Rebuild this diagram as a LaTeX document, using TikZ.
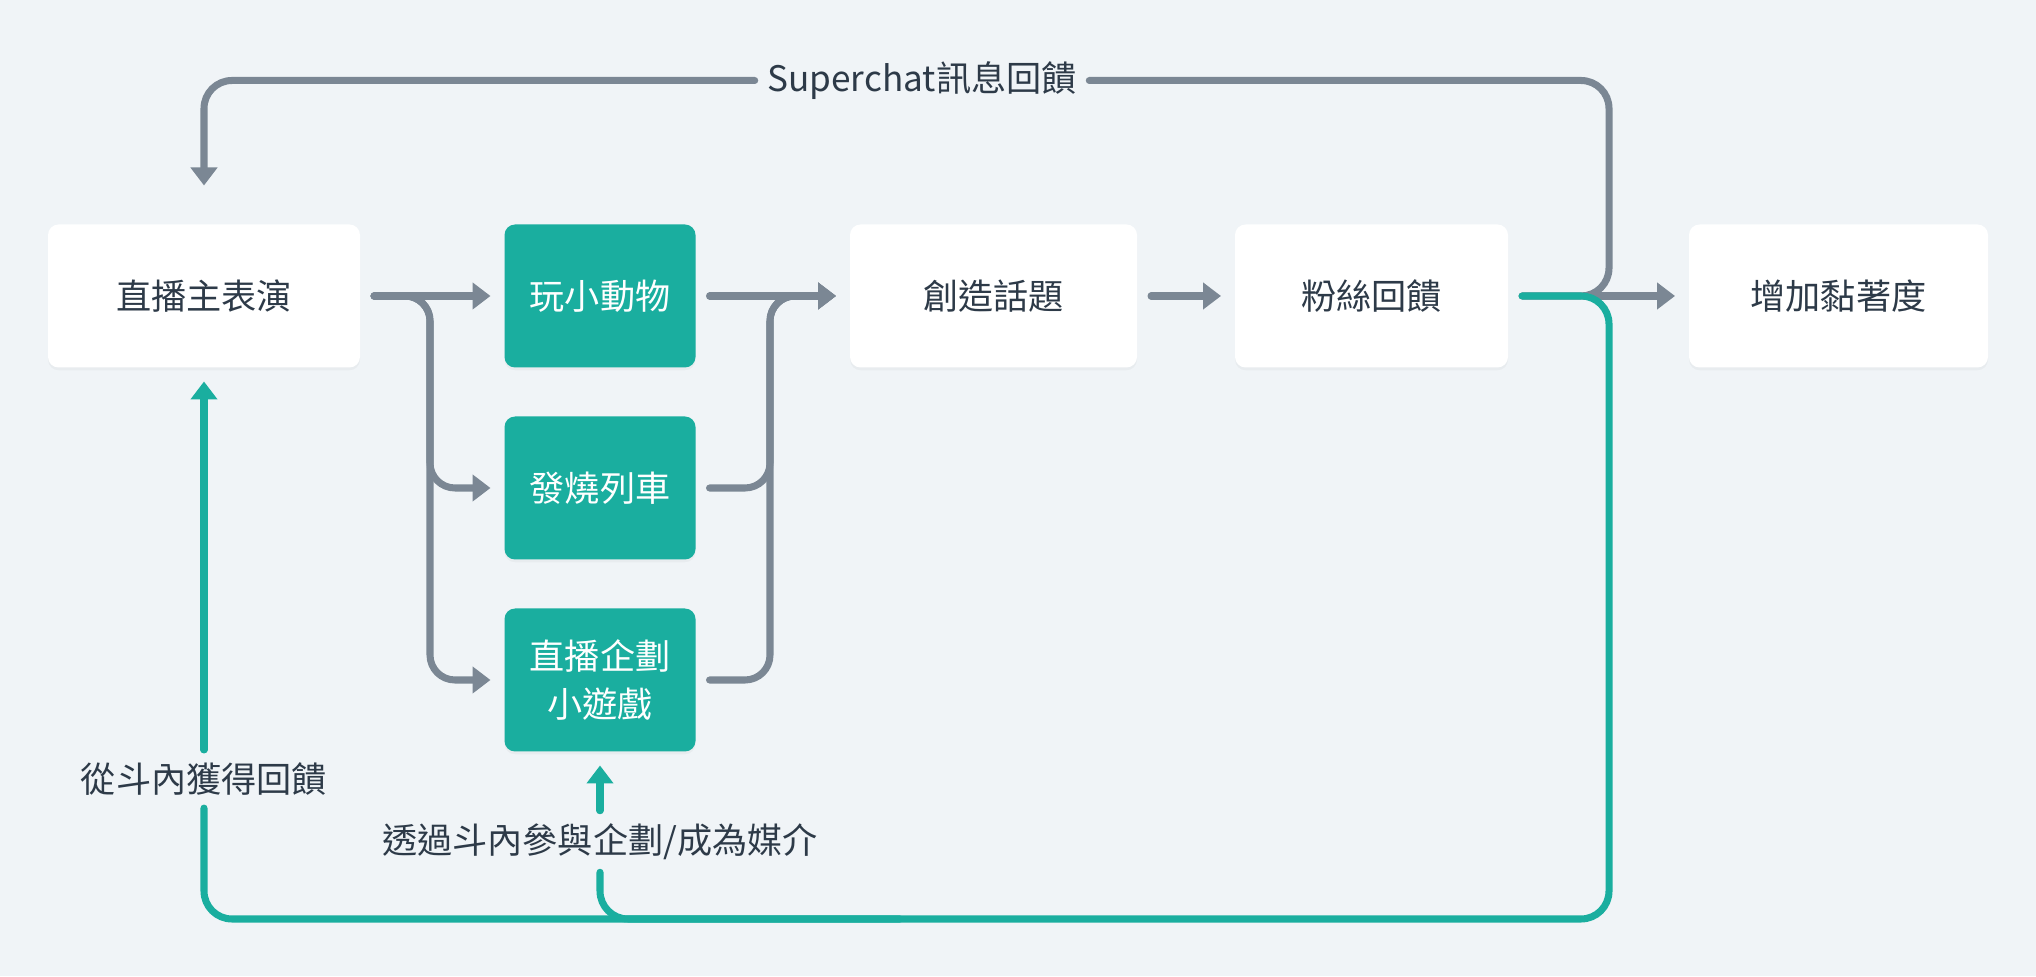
\documentclass[tikz,border=0pt]{standalone}
\usepackage{fontspec}
\setmainfont{Noto Sans CJK TC}
\usetikzlibrary{arrows.meta,shadows}
\definecolor{bgc}{HTML}{F0F4F7}
\definecolor{wire}{HTML}{7B8794}
\definecolor{mint}{HTML}{1AAE9F}
\definecolor{ink}{HTML}{2D3A48}

\begin{document}
\begin{tikzpicture}[>={Triangle[length=0.18cm,width=0.26cm]},
 font=\fontsize{10}{13.6}\selectfont,
 wbox/.style={fill=white,text=ink,rounded corners=3pt,minimum height=1.43cm,outer sep=0.14cm,
   drop shadow={shadow xshift=0pt,shadow yshift=-0.8pt,opacity=0.03,fill=black}},
 tbox/.style={wbox,fill=mint,text=white,minimum width=1.91cm,align=center},
 gw/.style={wire,line width=2pt,line cap=round},
 tw/.style={mint,line width=2pt,line cap=round},
 lab/.style={text=ink,inner sep=0.12cm}]
\useasboundingbox[fill=bgc] (0,0) rectangle (20.36,9.76);
% main row
\node[wbox,minimum width=3.12cm] (live) at (2.04,6.80) {直播主表演};
\node[tbox] (anim) at (6.00,6.80) {玩小動物};
\node[tbox] (fever) at (6.00,4.88) {發燒列車};
\node[tbox] (game) at (6.00,2.96) {直播企劃\\小遊戲};
\node[wbox,minimum width=2.87cm] (ideas) at (9.935,6.80) {創造話題};
\node[wbox,minimum width=2.73cm] (fans) at (13.715,6.80) {粉絲回饋};
\node[wbox,minimum width=2.99cm] (stick) at (18.385,6.80) {增加黏著度};
% loop labels
\node[lab] (sc) at (9.22,8.955) {Superchat訊息回饋};
\node[lab] (fb) at (2.04,1.97) {從斗內獲得回饋};
\node[lab] (via) at (6.00,1.345) {透過斗內參與企劃/成為媒介};
\coordinate (split) at (4.30,6.80);
\coordinate (merge) at (7.70,6.80);
\coordinate (jn) at (16.09,6.80);
\coordinate (ne) at (16.09,8.955);
\coordinate (sw) at (16.09,0.57);
\coordinate (fork) at (9.00,0.57);
% grey flow
\draw[gw,->] (live) -- (anim);
\foreach \b in {fever,game} \draw[gw,->,rounded corners=0.25cm] (live.east) -- (split) |- (\b);
\draw[gw,->] (anim) -- (ideas);
\foreach \b in {fever,game} \draw[gw,->,rounded corners=0.25cm] (\b) -| (merge) -- (ideas);
\draw[gw,->] (ideas) -- (fans);
\draw[gw,rounded corners=0.28cm] (fans) -| (ne) -- (sc);
\draw[gw,->,rounded corners=0.28cm,shorten >=0.25cm] (sc) -| (live);
\draw[gw,->] ([xshift=-0.25cm]jn) -- (stick);
% teal feedback
\draw[tw,rounded corners=0.28cm] (fans) -| (sw) -| (fb);
\draw[tw,rounded corners=0.28cm] (fork) -| (via);
\draw[tw,->] (fb) -- (live);
\draw[tw,->] (via) -- (game);
\end{tikzpicture}
\end{document}
